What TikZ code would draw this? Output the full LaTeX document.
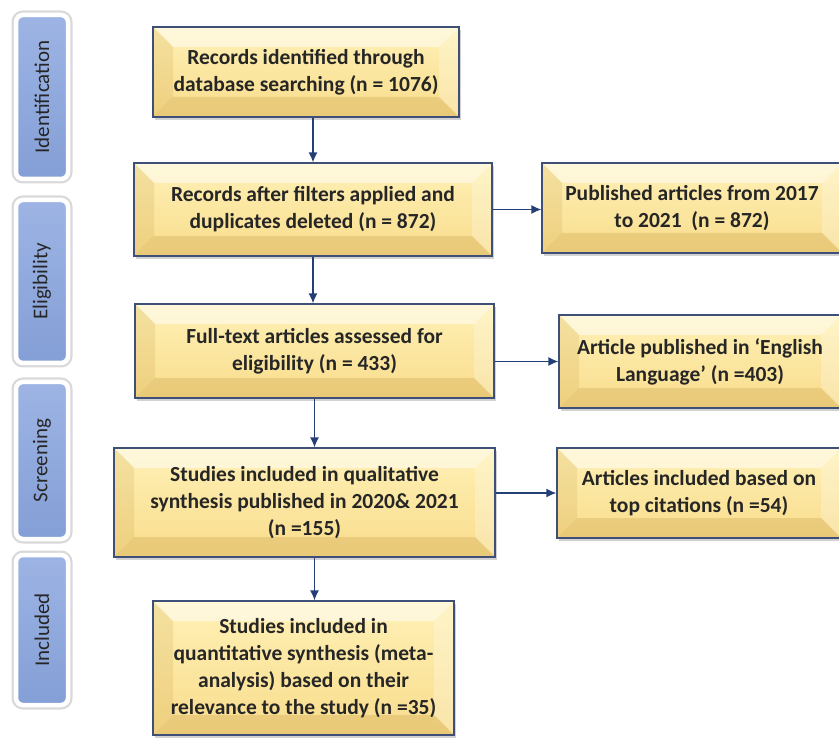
\documentclass[tikz,border=0pt]{standalone}
\usepackage{fontspec}
\setmainfont{Carlito}
\usepackage{tikz}
\usetikzlibrary{arrows.meta,shadows}

\definecolor{boxtop}{HTML}{FFF1B6}
\definecolor{boxbot}{HTML}{F8DC8C}
\definecolor{boxline}{HTML}{3E5078}
\definecolor{bevdark}{HTML}{C9A04A}
\definecolor{tabtop}{HTML}{9DB4E4}
\definecolor{tabbot}{HTML}{849FD6}
\definecolor{arrowblue}{HTML}{243F76}
\definecolor{txt}{HTML}{262626}

\newcommand\boxfont{\bfseries\fontsize{21.5}{27}\selectfont}
\newcommand\tabfont{\fontsize{21}{24}\selectfont}

\tikzset{
  box/.style={draw=boxline, line width=1.2pt, top color=boxtop, bottom color=boxbot,
    align=center, font=\boxfont, text=txt, inner sep=0pt,
    drop shadow={shadow xshift=2pt, shadow yshift=-3pt, opacity=.35},
    path picture={
      \fill[white, opacity=.5] (path picture bounding box.north west) -- (path picture bounding box.north east)
        -- ([shift={(-20pt,-20pt)}]path picture bounding box.north east) -- ([shift={(20pt,-20pt)}]path picture bounding box.north west) -- cycle;
      \fill[white, opacity=.25] (path picture bounding box.north east) -- (path picture bounding box.south east)
        -- ([shift={(-20pt,20pt)}]path picture bounding box.south east) -- ([shift={(-20pt,-20pt)}]path picture bounding box.north east) -- cycle;
      \fill[bevdark, opacity=.2] (path picture bounding box.north west) -- (path picture bounding box.south west)
        -- ([shift={(20pt,20pt)}]path picture bounding box.south west) -- ([shift={(20pt,-20pt)}]path picture bounding box.north west) -- cycle;
      \fill[bevdark, opacity=.3] (path picture bounding box.south west) -- (path picture bounding box.south east)
        -- ([shift={(-20pt,20pt)}]path picture bounding box.south east) -- ([shift={(20pt,20pt)}]path picture bounding box.south west) -- cycle;
    }},
  tab/.style={rotate=90, rounded corners=7pt, draw=white, line width=4.5pt,
    top color=tabtop, bottom color=tabbot, font=\tabfont, text=txt,
    minimum height=52pt, inner sep=0pt,
    preaction={draw=black!15, line width=9pt}},
  arr/.style={draw=arrowblue, line width=1.4pt, -{Latex[length=10pt,width=9pt]}}
}

\begin{document}
\begin{tikzpicture}[x=1pt,y=-1pt]
\path[use as bounding box, clip] (0,0) rectangle (839,738);
\fill[white] (0,0) rectangle (839,738);

% stage tabs
\node[tab, minimum width=164pt] (ident) at (42,97) {Identification};
\node[tab, minimum width=163pt] (elig) at (42,281.5) {Eligibility};
\node[tab, minimum width=157pt] (screen) at (42,460.5) {Screening};
\node[tab, minimum width=150pt] (incl) at (42,630) {Included};

% main column
\node[box, minimum width=306pt, minimum height=90pt] (rec) at (306,72)
  {Records identified through\\database searching (n = 1076)};
\node[box, minimum width=358pt, minimum height=93pt] (filt) at (313,209.5)
  {Records after filters applied and\\duplicates deleted (n = 872)};
\node[box, minimum width=359pt, minimum height=94pt] (full) at (314.5,351)
  {Full-text articles assessed for\\eligibility (n = 433)};
\node[box, minimum width=381pt, minimum height=109pt] (qual) at (304.5,502.5)
  {Studies included in qualitative\\synthesis published in 2020\& 2021\\(n =155)};
\node[box, minimum width=301pt, minimum height=134pt] (quant) at (303.5,668)
  {Studies included in\\quantitative synthesis (meta-\\analysis) based on their\\relevance to the study (n =35)};

% side column
\node[box, minimum width=300pt, minimum height=90pt] (pub) at (692,208)
  {Published articles from 2017\\to 2021~ (n = 872)};
\node[box, minimum width=282pt, minimum height=93pt] (eng) at (700,361.5)
  {Article published in ‘English\\Language’ (n =403)};
\node[box, minimum width=284pt, minimum height=90pt] (cit) at (699,493)
  {Articles included based on\\top citations (n =54)};

% connectors
\draw[arr] (rec.south -| filt.north) -- (filt.north);
\draw[arr] (filt.south) -- (filt.south |- full.north);
\draw[arr] (full.south) -- (full.south |- qual.north);
\draw[arr] (qual.south -| full.south) -- (quant.north -| full.south);
\draw[arr] (filt.east) -- (filt.east -| pub.west);
\draw[arr] (eng.west -| full.east) -- (eng.west);
\draw[arr] (cit.west -| qual.east) -- (cit.west);
\end{tikzpicture}
\end{document}
